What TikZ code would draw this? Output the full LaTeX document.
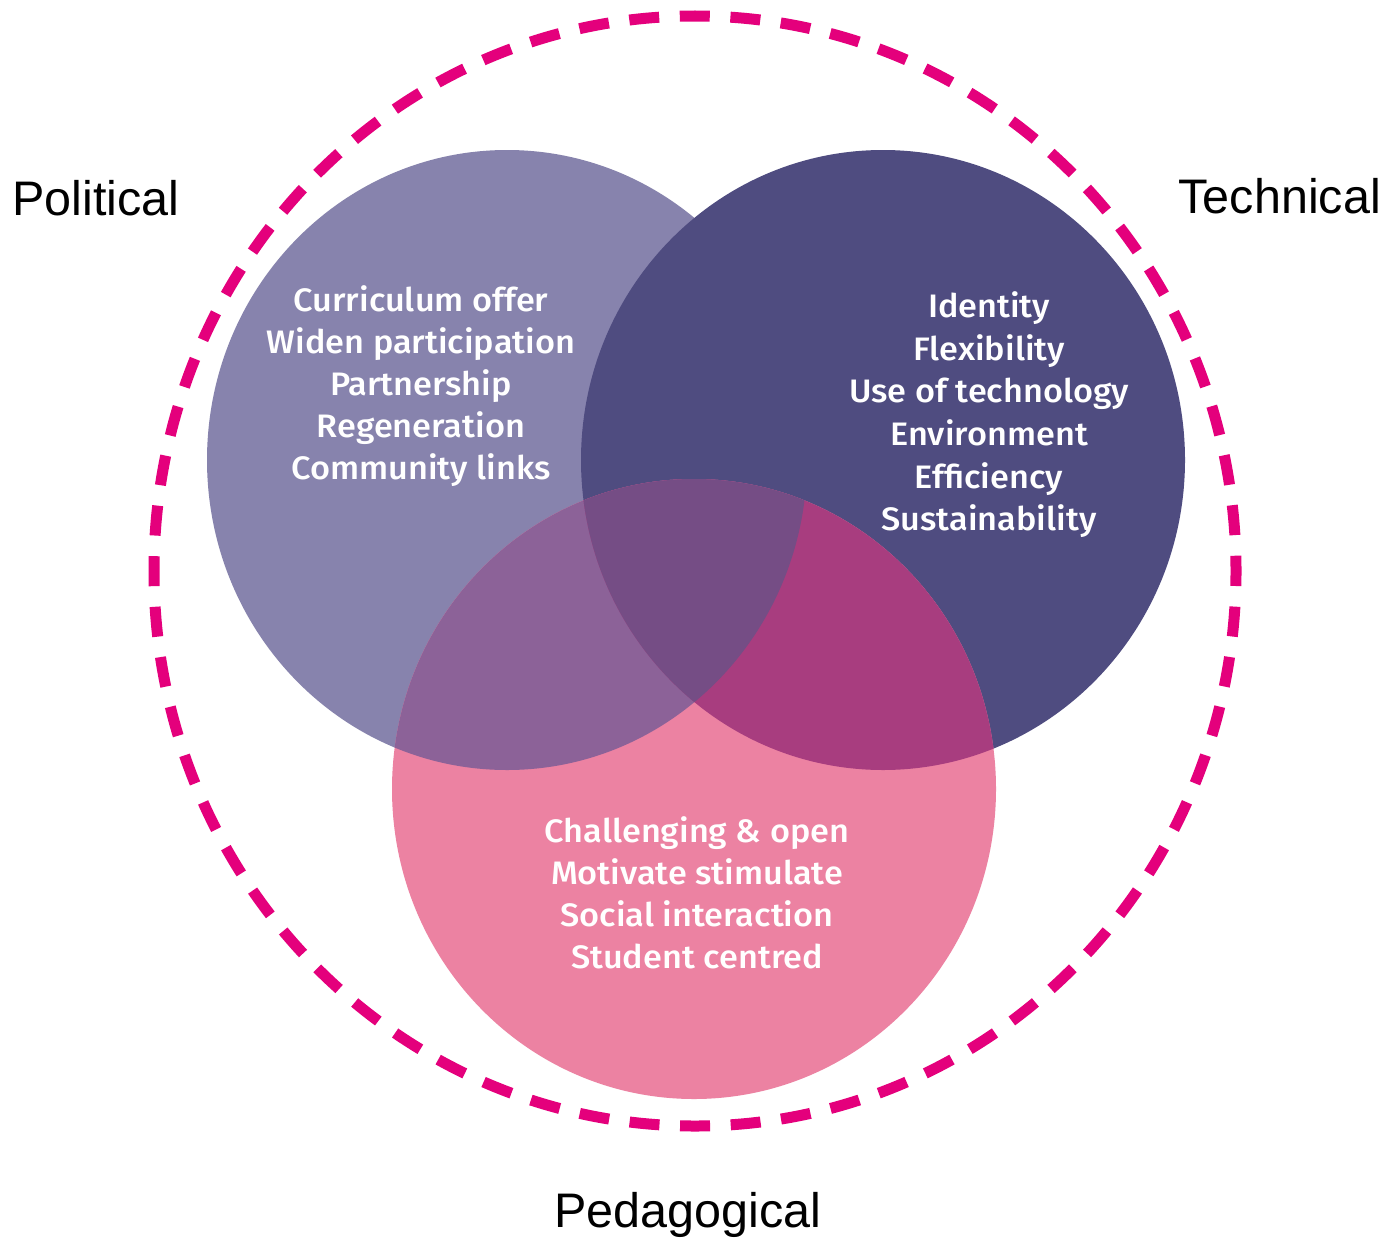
\documentclass[tikz,border=0pt]{standalone}
\usepackage{fontspec}
\setmainfont{Liberation Sans}
\IfFontExistsTF{Fira Sans Medium}
  {\newfontfamily\vennfont{Fira Sans Medium}[FakeStretch=1.055]}
  {\newfontfamily\vennfont{Fira Sans}[FakeStretch=1.055]}
\definecolor{polc}{RGB}{135,131,173}
\definecolor{tecc}{RGB}{79,76,128}
\definecolor{pedc}{RGB}{236,130,162}
\definecolor{lpc}{RGB}{140,98,152}
\definecolor{rpc}{RGB}{168,61,127}
\definecolor{lrpc}{RGB}{117,77,133}
\definecolor{dashc}{RGB}{228,0,124}
\tikzset{
  vtext/.style={text=white, font=\vennfont\fontsize{32.5}{32.5}\selectfont, anchor=base, inner sep=0pt},
  lab/.style={text=black, font=\fontsize{48.5}{48.5}\selectfont, inner sep=0pt},
  outerring/.style={draw=dashc, line width=11pt, dash pattern=on 30pt off 20.64pt, dash phase=15pt}
}
\begin{document}
\begin{tikzpicture}[x=1pt,y=-1pt]
\useasboundingbox[fill=white] (0,0) rectangle (1388,1239);
% outer dashed ring
\draw[outerring] (695,571) ellipse [x radius=541, y radius=555];
% three sets
\fill[polc] (507,460) ellipse [x radius=300, y radius=310];
\fill[tecc] (883,460) ellipse [x radius=302, y radius=310];
\fill[pedc] (694,789) ellipse [x radius=302, y radius=310];
\begin{scope}
  \clip (507,460) ellipse [x radius=300, y radius=310];
  \fill[lpc] (694,789) ellipse [x radius=302, y radius=310];
\end{scope}
\begin{scope}
  \clip (883,460) ellipse [x radius=302, y radius=310];
  \fill[rpc] (694,789) ellipse [x radius=302, y radius=310];
\end{scope}
\begin{scope}
  \clip (507,460) ellipse [x radius=300, y radius=310];
  \clip (883,460) ellipse [x radius=302, y radius=310];
  \fill[lrpc] (694,789) ellipse [x radius=302, y radius=310];
\end{scope}
% texts
\foreach \t/\y [count=\i] in {Curriculum offer/311, Widen participation/353, Partnership/395, Regeneration/437, Community links/479}
  \node[vtext] (pol\i) at (421,\y) {\t};
\foreach \t/\y [count=\i] in {Identity/317, Flexibility/360, Use of technology/402, Environment/445, Efficiency/488, Sustainability/530}
  \node[vtext] (tec\i) at (989,\y) {\t};
\foreach \t/\y [count=\i] in {Challenging \& open/842, Motivate stimulate/884, Social interaction/926, Student centred/968}
  \node[vtext] (ped\i) at (697,\y) {\t};
% labels
\node[lab, anchor=base west] (political) at (12,215) {Political};
\node[lab, anchor=base east] (technical) at (1381,213) {Technical};
\node[lab, anchor=base] (pedagogical) at (688,1227) {Pedagogical};
\end{tikzpicture}
\end{document}
